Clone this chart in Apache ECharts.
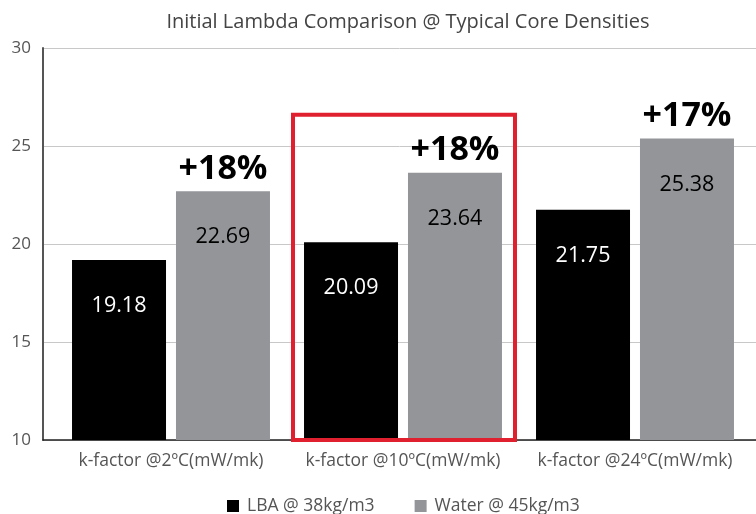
<!DOCTYPE html>
<html><head><meta charset="utf-8">
<script src="https://cdn.jsdelivr.net/npm/echarts@6/dist/echarts.min.js"></script>
<style>html,body{margin:0;padding:0;background:#fff}#c{width:756px;height:514px}</style>
</head><body><div id="c"></div>
<script>
const categories = ['k-factor @2ºC(mW/mk)', 'k-factor @10ºC(mW/mk)', 'k-factor @24ºC(mW/mk)'];
const lbaValues = [19.18, 20.09, 21.75];
const waterValues = [22.69, 23.64, 25.38];
const increaseLabels = ['+18%', '+18%', '+17%'];
const seriesNames = ['LBA @ 38kg/m3', 'Water @ 45kg/m3'];
const yTicks = [10, 15, 20, 25, 30];
const highlightIndex = 1;

const FONT = 'Open Sans';
const chart = echarts.init(document.getElementById('c'));
chart.setOption({
  animation: false,
  textStyle: {fontFamily: FONT},
  title: {
    text: 'Initial Lambda Comparison @ Typical Core Densities',
    left: 403, top: 7, textAlign: 'center',
    textStyle: {fontFamily: FONT, fontSize: 20, fontWeight: 'normal', color: '#444'}
  },
  legend: {
    top: 492, left: 222, itemWidth: 12, itemHeight: 12, itemGap: 40,
    icon: 'rect',
    textStyle: {fontFamily: FONT, fontSize: 17.5, color: '#555', padding: [0, 0, 0, 3]},
    data: seriesNames
  },
  grid: [
    {left: 43, right: 0, top: 48, bottom: 74},
    {left: 55, right: 5, top: 48, bottom: 74}
  ],
  xAxis: [
    {gridIndex: 0, type: 'category', data: categories, axisLine: {lineStyle: {color: '#222', width: 1.5}},
     axisTick: {show: false}, axisLabel: {show: false}},
    {gridIndex: 1, type: 'category', data: categories, axisLine: {show: false}, axisTick: {show: false},
     axisLabel: {fontFamily: FONT, fontSize: 17.5, color: '#555', margin: 12, interval: 0, hideOverlap: false}}
  ],
  yAxis: [
    {gridIndex: 0, type: 'value', min: 10, max: 30, interval: 5,
     axisLine: {show: true, lineStyle: {color: '#555', width: 2}}, axisTick: {show: false},
     splitLine: {lineStyle: {color: '#c8c8c8'}},
     axisLabel: {fontFamily: FONT, fontSize: 17, color: '#555', margin: 12, verticalAlign: 'middle', padding: [0, 0, 12, 0],
       formatter: v => yTicks.includes(v) ? String(v) : ''}},
    {gridIndex: 1, type: 'value', min: 10, max: 30, interval: 5, show: false}
  ],
  series: [
    {name: seriesNames[0], type: 'bar', xAxisIndex: 1, yAxisIndex: 1, data: lbaValues,
     barWidth: 94, barGap: '10.6%', itemStyle: {color: '#000'},
     label: {show: true, position: 'insideTop', distance: 35, color: '#fff', fontSize: 21.5, fontFamily: FONT,
       formatter: p => p.value.toFixed(2)}},
    {name: seriesNames[1], type: 'bar', xAxisIndex: 1, yAxisIndex: 1, data: waterValues,
     barWidth: 94, itemStyle: {color: '#939598'},
     label: {show: true, position: 'insideTop', distance: 35, color: '#000', fontSize: 21.5, fontFamily: FONT,
       formatter: p => p.value.toFixed(2)}}
  ]
});

// percent labels above the gray bars and highlight box, positioned through the axes
function place() {
  const gi = {xAxisIndex: 1, yAxisIndex: 1};
  const texts = waterValues.map((v, i) => {
    const c = chart.convertToPixel(gi, [i, v]);
    return {type: 'text', x: c[0] + 52, y: c[1] - 5, z: 10,
      style: {text: increaseLabels[i], fill: '#000', font: 'bold 34px "' + FONT + '"', align: 'center', verticalAlign: 'bottom'}};
  });
  const c0 = chart.convertToPixel(gi, [highlightIndex, 10]);
  const cTop = chart.convertToPixel(gi, [highlightIndex, waterValues[highlightIndex] + 2.95]);
  const rect = {type: 'rect', z: 20, silent: true,
    shape: {x: c0[0] - 110, y: cTop[1], width: 222, height: c0[1] - cTop[1]},
    style: {fill: 'none', stroke: '#e0202e', lineWidth: 4}};
  chart.setOption({graphic: texts.concat([rect])});
}
place();
</script></body></html>
